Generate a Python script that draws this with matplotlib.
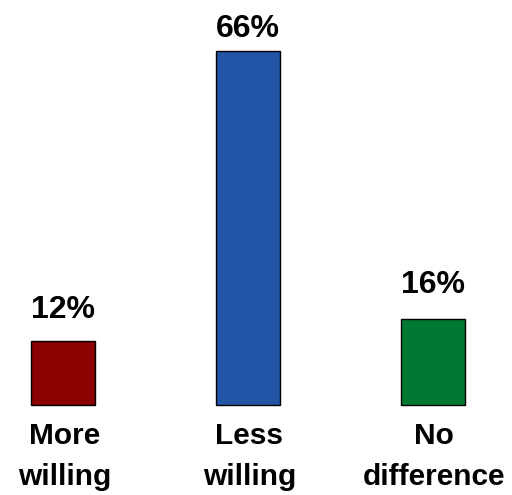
import matplotlib.pyplot as plt

# Survey answers and their shares
categories = ["More\nwilling", "Less\nwilling", "No\ndifference"]
shares = [12, 66, 16]
bar_colors = ["#8b0000", "#2255a5", "#007a33"]
label_pad = [11.5, 5, 13.5]  # points between bar top and value label

plt.rcParams['font.family'] = ['Liberation Sans', 'DejaVu Sans']

fig = plt.figure(figsize=(5.12, 4.95), dpi=100)
ax = fig.add_axes([0, 0, 1, 1])

x = range(len(shares))
ax.bar(x, shares, width=0.346, color=bar_colors, edgecolor="black", linewidth=1)

# Value labels above each bar
for xi, v, pad in zip(x, shares, label_pad):
    ax.annotate(f"{v}%", (xi, v), xytext=(0, pad), textcoords="offset points",
                ha="center", va="bottom", fontsize=23, fontweight="bold")

# Category names below the bars
for xi, name in zip(x, categories):
    ax.annotate(name, (xi, 0), xytext=(1, -12), textcoords="offset points",
                ha="center", va="top", fontsize=21.5, fontweight="bold",
                linespacing=1.6)

ax.set_xlim(-0.34, 2.427)
ax.set_ylim(-16.8, 75.5)
ax.axis("off")

plt.savefig("out.png", dpi=100)
